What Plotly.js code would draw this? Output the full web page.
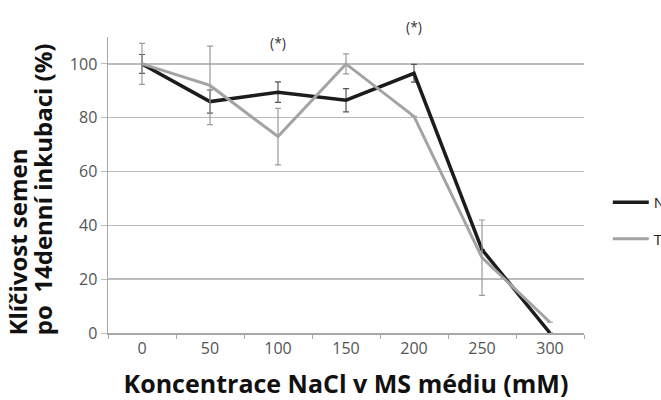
<!DOCTYPE html>
<html><head><meta charset="utf-8">
<script src="https://cdn.plot.ly/plotly-3.0.1.min.js"></script>
<style>html,body{margin:0;padding:0;background:#fff;overflow:hidden}</style>
</head><body>
<div id="chart" style="width:661px;height:400px"></div>
<script>
const categories = ["0","50","100","150","200","250","300"];
const seriesNames = ["N", "T"];
const valuesN = [100, 86, 89.5, 86.5, 96.5, 31, 0];
const errorsN = [3.5, 4.3, 3.8, 4.3, 3.3, 0, 0];
const valuesT = [100, 92, 73, 100, 80.5, 28, 4];
const errorsT = [7.6, 14.6, 10.5, 3.7, 0, 14, 0];
const yTicks = [0, 20, 40, 60, 80, 100];
const starCategories = ["100", "200"];
const starText = "(*)";
const yTitleLines = ["Klíčivost semen", "po  14denní inkubaci (%)"];
const xTitle = "Koncentrace NaCl v MS médiu (mM)";

const traces = [
  {x: categories, y: valuesN, name: seriesNames[0], type: "scatter", mode: "lines",
   line: {color: "#1c1c1c", width: 3.5}, legendgroup: "n", legendrank: 1,
   error_y: {type: "data", array: errorsN, visible: true, color: "#555", thickness: 1.2, width: 3}},
  {x: categories, y: valuesT, name: seriesNames[1], type: "scatter", mode: "lines",
   line: {color: "#a3a3a3", width: 3}, legendgroup: "t", legendrank: 2,
   error_y: {type: "data", array: errorsT, visible: true, color: "#9a9a9a", thickness: 1.2, width: 3}}
];

const starShifts = [21, 37];
const annotations = starCategories.map((c, i) => ({
  x: categories.indexOf(c), y: 100, xref: "x", yref: "y", yshift: starShifts[i],
  text: starText, showarrow: false, font: {size: 14, color: "#333"}}));
const titleX = [-0.19, -0.137];
yTitleLines.forEach((t, i) => annotations.push({
  text: t, xref: "paper", yref: "paper", x: titleX[i], y: -0.015, xanchor: "center", yanchor: "bottom",
  textangle: -90, showarrow: false, font: {size: 24, color: "#111", weight: "bold"}}));

const layout = {
  width: 661, height: 400,
  margin: {l: 108, r: 77, t: 37, b: 67, autoexpand: false},
  paper_bgcolor: "#fff", plot_bgcolor: "#fff",
  font: {family: "'Open Sans', sans-serif", color: "#404040"},
  showlegend: true,
  legend: {x: 1.05, y: 0.38, xanchor: "left", yanchor: "middle", font: {size: 15, color: "#222"},
           itemwidth: 36, tracegroupgap: 14, bgcolor: "rgba(0,0,0,0)"},
  xaxis: {type: "category", range: [-0.5, 6.5], showgrid: false, showline: true, linecolor: "#a8a8a8", linewidth: 1.5,
          ticks: "outside", tickson: "boundaries", ticklen: 4, tickcolor: "#a8a8a8",
          tickfont: {size: 16, color: "#555"},
          title: {text: xTitle, font: {size: 25, color: "#111", weight: "bold"}, standoff: 19}},
  yaxis: {range: [0, 110], tickvals: yTicks, showgrid: true, gridcolor: "#bcbcbc", gridwidth: 1.5,
          showline: true, linecolor: "#a8a8a8", linewidth: 1.5, ticks: "outside", ticklen: 6, tickcolor: "#bcbcbc",
          tickfont: {size: 16, color: "#555"}, zeroline: false},
  annotations: annotations
};
Plotly.newPlot("chart", traces, layout, {staticPlot: true});
</script>
</body></html>
